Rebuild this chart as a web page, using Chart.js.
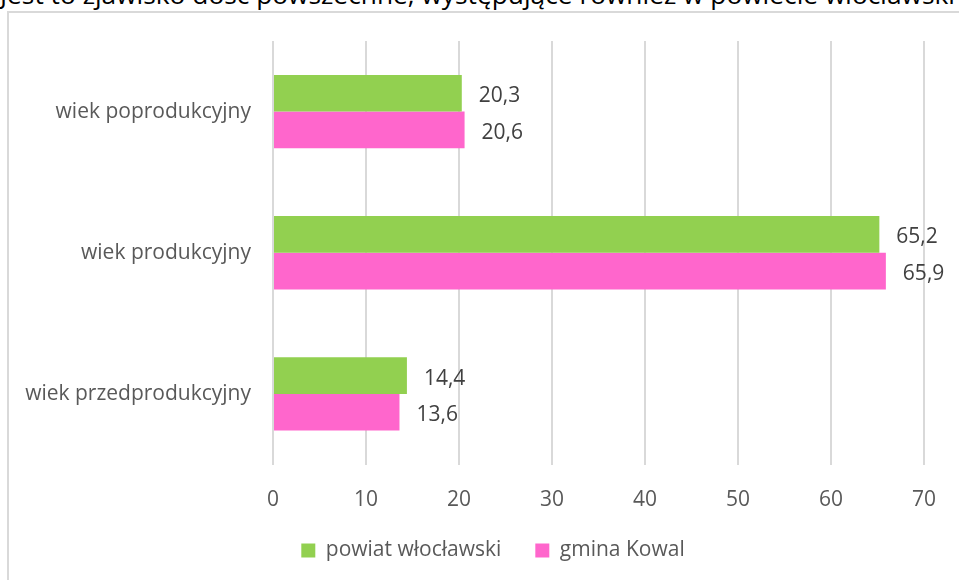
<!DOCTYPE html>
<html>
<head>
<meta charset="utf-8">
<script src="https://cdn.jsdelivr.net/npm/chart.js@4.4.0/dist/chart.umd.min.js"></script>
<style>
  body { margin: 0; background: #fff; overflow: hidden; }
  #wrap { position: relative; width: 959px; height: 580px; }
  #frame { position: absolute; left: 7px; top: 11px; width: 1000px; height: 620px;
           border-left: 2px solid #D9D9D9; border-top: 2px solid #D9D9D9; }
  #head { position: absolute; left: 0; top: 0; }
  canvas { position: absolute; left: 0; top: 0; }
</style>
</head>
<body>
<div id="wrap">
  <svg id="head" width="959" height="12">
    <text x="0" y="4" font-family="Open Sans" font-size="25" fill="#000"
          textLength="955" lengthAdjust="spacingAndGlyphs">Jest to zjawisko dość powszechne, występujące również w powiecie włocławski</text>
  </svg>
  <div id="frame"></div>
  <canvas id="barChart" width="959" height="580"></canvas>
</div>
<script>
// dane z wykresu
var categories = ["wiek poprodukcyjny", "wiek produkcyjny", "wiek przedprodukcyjny"];
var seriesNames = ["powiat włocławski", "gmina Kowal"];
var powiatValues = [20.3, 65.2, 14.4];
var gminaValues = [20.6, 65.9, 13.6];
var xTicks = [0, 10, 20, 30, 40, 50, 60, 70];

var textColor = "#595959";
var fontFamily = "'Open Sans', sans-serif";
var fontSize = 21;

// etykiety wartosci na koncach slupkow
var valueLabels = {
    id: 'valueLabels',
    afterDatasetsDraw: function(chart) {
        var ctx = chart.ctx;
        ctx.save();
        ctx.font = fontSize + "px " + fontFamily;
        ctx.fillStyle = "#404040";
        ctx.textAlign = "left";
        ctx.textBaseline = "middle";
        chart.data.datasets.forEach(function(ds, i) {
            chart.getDatasetMeta(i).data.forEach(function(bar, j) {
                var txt = ds.data[j].toFixed(1).replace('.', ',');
                ctx.fillText(txt, bar.x + 17, bar.y + 3);
            });
        });
        ctx.restore();
    }
};

// legenda wysrodkowana wzgledem calej ramki (w oryginale ramka wychodzi poza kadr)
var legendShift = {
    id: 'legendShift',
    afterLayout: function(chart) {
        chart.legend.left += 25;
        chart.legend.right += 25;
    }
};

var ctx = document.getElementById("barChart").getContext('2d');
new Chart(ctx, {
    type: 'bar',
    data: {
        labels: categories,
        datasets: [
            {
                label: seriesNames[0],
                data: powiatValues,
                backgroundColor: "#92D050",
                barPercentage: 1,
                categoryPercentage: 0.52
            },
            {
                label: seriesNames[1],
                data: gminaValues,
                backgroundColor: "#FF66CC",
                barPercentage: 1,
                categoryPercentage: 0.52
            }
        ]
    },
    options: {
        indexAxis: 'y',
        responsive: false,
        animation: false,
        layout: { padding: { top: 41, left: 8, right: 31, bottom: 9 } },
        scales: {
            x: {
                min: 0,
                max: 70,
                afterBuildTicks: function(axis) {
                    axis.ticks = xTicks.map(function(v) { return { value: v }; });
                },
                grid: { color: "#D9D9D9", lineWidth: 2, drawTicks: false },
                border: { display: false },
                ticks: { color: textColor, font: { family: fontFamily, size: fontSize }, padding: 23 },
                afterFit: function(axis) { axis.height = 41.5; }
            },
            y: {
                grid: { display: false, drawTicks: false },
                border: { display: false },
                ticks: { color: textColor, font: { family: fontFamily, size: fontSize }, padding: 22 },
                afterFit: function(axis) { axis.width = 265; }
            }
        },
        plugins: {
            legend: {
                position: 'bottom',
                labels: {
                    color: textColor,
                    font: { family: fontFamily, size: fontSize },
                    boxWidth: 14,
                    boxHeight: 14,
                    padding: 34
                }
            },
            tooltip: { enabled: false }
        }
    },
    plugins: [valueLabels, legendShift]
});
</script>
</body>
</html>
